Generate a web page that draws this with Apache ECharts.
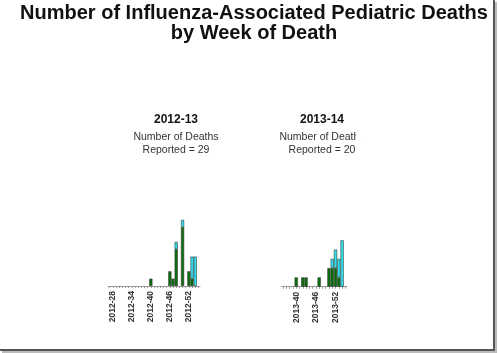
<!DOCTYPE html>
<html>
<head>
<meta charset="utf-8">
<script src="https://cdn.jsdelivr.net/npm/echarts@6/dist/echarts.min.js"></script>
<style>
  html, body { margin: 0; padding: 0; background: #fff; }
  #chart { width: 498px; height: 353px; }
</style>
</head>
<body>
<div id="chart"></div>
<script>
// weeks shown on each panel (MMWR week of death)
var weeks1213 = ['2012-27','2012-28','2012-29','2012-30','2012-31','2012-32','2012-33','2012-34','2012-35','2012-36',
  '2012-37','2012-38','2012-39','2012-40','2012-41','2012-42','2012-43','2012-44','2012-45','2012-46',
  '2012-47','2012-48','2012-49','2012-50','2012-51','2012-52','2013-01','2013-02','2013-03'];
var weeks1314 = ['2013-36','2013-37','2013-38','2013-39','2013-40','2013-41','2013-42','2013-43','2013-44','2013-45',
  '2013-46','2013-47','2013-48','2013-49','2013-50','2013-51','2013-52','2014-01','2014-02','2014-03'];

var ticks1213 = ['2012-28','2012-34','2012-40','2012-46','2012-52'];
var ticks1314 = ['2013-40','2013-46','2013-52'];

// deaths per week: dark green = earlier reported, cyan = newly reported
var green1213 = [0,0,0,0,0,0,0,0,0,0,0,0,0,1,0,0,0,0,0,2,1,5,0,8,0,2,1,0,0];
var cyan1213  = [0,0,0,0,0,0,0,0,0,0,0,0,0,0,0,0,0,0,0,0,0,1,0,1,0,0,3,4,0];
var green1314 = [0,0,0,0,1,0,1,1,0,0,0,1,0,0,2,2,2,1,0,0];
var cyan1314  = [0,0,0,0,0,0,0,0,0,0,0,0,0,0,0,1,2,2,5,0];

var GREEN = '#08700a';
var CYAN = '#2fe2ef';

function noZero(arr) {
    return arr.map(function (v) { return v === 0 ? '-' : v; });
}

function xAxisFor(gridIndex, cats, shown) {
    return {
        type: 'category',
        gridIndex: gridIndex,
        data: cats,
        boundaryGap: true,
        axisLine: { lineStyle: { color: '#9a9a9a', width: 1 } },
        axisTick: { show: true, interval: 0, alignWithLabel: true, length: 2, lineStyle: { color: '#9a9a9a' } },
        axisLabel: {
            interval: function (i, v) { return shown.indexOf(v) >= 0; },
            rotate: 90,
            margin: 5,
            color: '#333',
            fontSize: 8.5,
            fontWeight: 'bold',
            fontFamily: 'Liberation Sans'
        },
        splitLine: { show: false }
    };
}

function bar(name, xi, data, color) {
    return {
        name: name,
        type: 'bar',
        xAxisIndex: xi,
        yAxisIndex: xi,
        stack: 'p' + xi,
        data: noZero(data),
        barCategoryGap: '0%',
        itemStyle: { color: color, borderColor: '#3a3a3a', borderWidth: 0.6 },
        silent: true
    };
}

var chart = echarts.init(document.getElementById('chart'), null, { renderer: 'canvas' });
chart.setOption({
    animation: false,
    backgroundColor: '#fff',
    title: [{
        text: 'Number of Influenza-Associated Pediatric Deaths\nby Week of Death',
        left: 249, top: -2, textAlign: 'center',
        textStyle: { fontFamily: 'Liberation Sans', fontWeight: 'bold', fontSize: 20, lineHeight: 20, color: '#111' }
    }, {
        text: '2012-13',
        subtext: 'Number of Deaths\nReported = 29',
        left: 171, top: 109, textAlign: 'center', itemGap: 5,
        textStyle: { fontFamily: 'Liberation Sans', fontWeight: 'bold', fontSize: 12, color: '#111' },
        subtextStyle: { fontFamily: 'Liberation Sans', fontSize: 10.5, lineHeight: 13, color: '#333' }
    }, {
        text: '2013-14',
        subtext: 'Number of Deaths\nReported = 20',
        left: 317, top: 109, textAlign: 'center', itemGap: 5,
        textStyle: { fontFamily: 'Liberation Sans', fontWeight: 'bold', fontSize: 12, color: '#111' },
        subtextStyle: { fontFamily: 'Liberation Sans', fontSize: 10.5, lineHeight: 13, color: '#333' }
    }],
    grid: [
        { left: 108, width: 92, top: 212.5, bottom: 67, containLabel: false },
        { left: 281.5, width: 65.5, top: 231, bottom: 66.3, containLabel: false }
    ],
    xAxis: [xAxisFor(0, weeks1213, ticks1213), xAxisFor(1, weeks1314, ticks1314)],
    yAxis: [
        { type: 'value', gridIndex: 0, min: 0, max: 10, show: false },
        { type: 'value', gridIndex: 1, min: 0, max: 6, show: false }
    ],
    series: [
        bar('2012-13 reported', 0, green1213, GREEN),
        bar('2012-13 new', 0, cyan1213, CYAN),
        bar('2013-14 reported', 1, green1314, GREEN),
        bar('2013-14 new', 1, cyan1314, CYAN)
    ],
    graphic: [
        // slide frame shadow on right and bottom
        { type: 'rect', shape: { x: 493, y: 0, width: 2, height: 351 }, style: { fill: '#555' }, silent: true },
        { type: 'rect', shape: { x: 0, y: 349, width: 495, height: 2 }, style: { fill: '#555' }, silent: true },
        { type: 'rect', shape: { x: 495, y: 2, width: 2, height: 350 }, style: { fill: '#bbb' }, silent: true },
        { type: 'rect', shape: { x: 2, y: 351, width: 495, height: 2 }, style: { fill: '#bbb' }, silent: true },
        // right panel caption is cut off at its right edge
        { type: 'rect', shape: { x: 356, y: 128, width: 8, height: 14 }, style: { fill: '#fff' }, silent: true, z: 100 }
    ]
});
</script>
</body>
</html>
